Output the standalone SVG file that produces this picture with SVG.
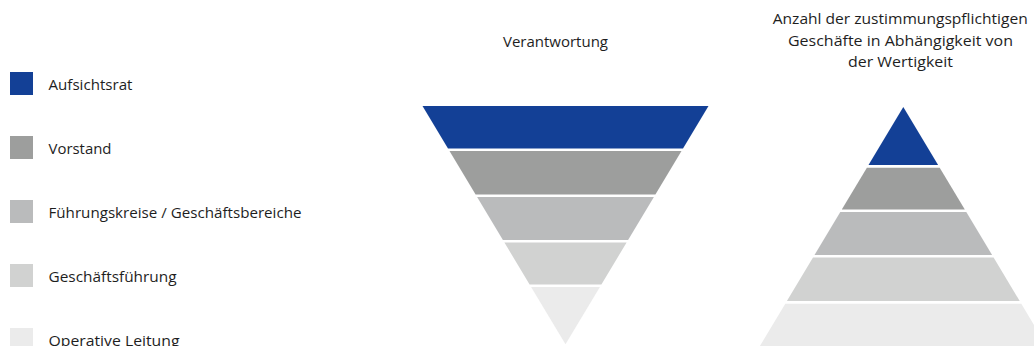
<svg xmlns="http://www.w3.org/2000/svg" width="1034" height="346" viewBox="0 0 1034 346">
<style>
text{font-family:"Open Sans","Liberation Sans",Arial,sans-serif;font-size:14.5px;fill:#1e1e1e}
.c1{fill:#134096}.c2{fill:#9d9e9d}.c3{fill:#babbbc}.c4{fill:#d1d2d1}.c5{fill:#ebebeb}
.mid{text-anchor:middle}
</style>
<rect width="1034" height="346" fill="#ffffff"/>
<g id="legend">
<g id="leg-aufsichtsrat"><rect class="c1" x="10" y="72" width="23" height="23"/><text x="48.5" y="89.5" textLength="84" lengthAdjust="spacingAndGlyphs">Aufsichtsrat</text></g>
<g id="leg-vorstand"><rect class="c2" x="10" y="136" width="23" height="23"/><text x="48.5" y="153.5" textLength="63" lengthAdjust="spacingAndGlyphs">Vorstand</text></g>
<g id="leg-fuehrungskreise"><rect class="c3" x="10" y="200" width="23" height="23"/><text x="48.5" y="217.5" textLength="253" lengthAdjust="spacingAndGlyphs">Führungskreise / Geschäftsbereiche</text></g>
<g id="leg-geschaeftsfuehrung"><rect class="c4" x="10" y="264" width="23" height="23"/><text x="48.5" y="281.5" textLength="128" lengthAdjust="spacingAndGlyphs">Geschäftsführung</text></g>
<g id="leg-operative"><rect class="c5" x="10" y="328" width="23" height="23"/><text x="48.5" y="345.5" textLength="131" lengthAdjust="spacingAndGlyphs">Operative Leitung</text></g>
</g>
<g id="verantwortung">
<text class="mid" x="555.5" y="46.5" textLength="105" lengthAdjust="spacingAndGlyphs">Verantwortung</text>
<polygon id="v1" class="c1" points="422.5,106 708.5,106 683,148.5 448,148.5"/>
<polygon id="v2" class="c2" points="449.5,151 681.5,151 655.4,194.5 475.6,194.5"/>
<polygon id="v3" class="c3" points="477.1,197 653.9,197 628.1,240 502.9,240"/>
<polygon id="v4" class="c4" points="504.4,242.5 626.6,242.5 601.4,284.5 529.6,284.5"/>
<polygon id="v5" class="c5" points="531.1,287 599.9,287 565.5,344.3"/>
</g>
<g id="anzahl">
<text class="mid" x="900.2" y="24" textLength="255" lengthAdjust="spacingAndGlyphs">Anzahl der zustimmungspflichtigen</text>
<text class="mid" x="900.5" y="45.7" textLength="225" lengthAdjust="spacingAndGlyphs">Geschäfte in Abhängigkeit von</text>
<text class="mid" x="900.5" y="67.3" textLength="105" lengthAdjust="spacingAndGlyphs">der Wertigkeit</text>
<polygon id="p1" class="c1" points="903.3,107 938.1,165 868.5,165"/>
<polygon id="p2" class="c2" points="866.9,167.7 939.7,167.7 964.8,209.5 841.8,209.5"/>
<polygon id="p3" class="c3" points="840.3,212 966.3,212 992.1,255 814.5,255"/>
<polygon id="p4" class="c4" points="813,257.5 993.6,257.5 1019.7,301 786.9,301"/>
<polygon id="p5" class="c5" points="785.3,303.7 1021.3,303.7 1049,350 757.5,350"/>
</g>
</svg>
